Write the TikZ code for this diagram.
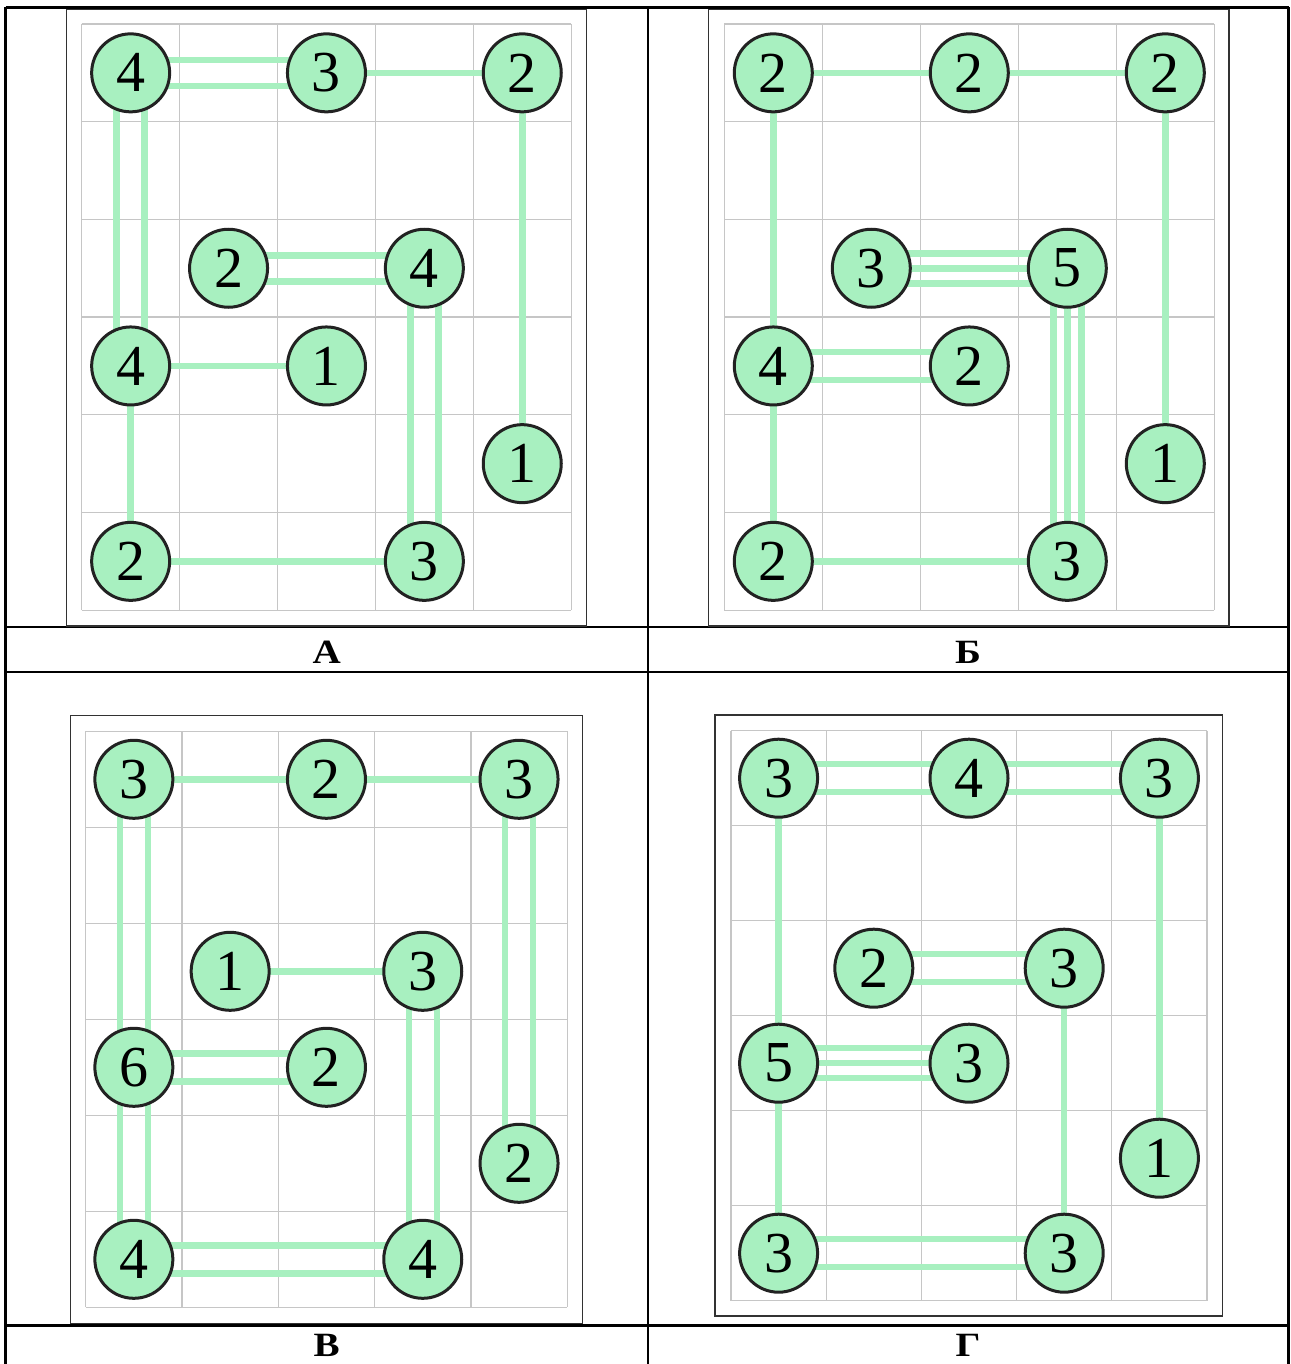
\documentclass[tikz,border=0pt]{standalone}
\usepackage{fontspec}
\setmainfont{Liberation Serif}
\pgfdeclarelayer{back}
\pgfdeclarelayer{bg}
\pgfsetlayers{back,bg,main}
\definecolor{mint}{RGB}{168,240,192}
\definecolor{ring}{RGB}{34,34,34}
\definecolor{gridc}{RGB}{198,198,198}
\definecolor{framec}{RGB}{50,50,50}
\tikzset{
 isle/.style={circle, draw=ring, line width=3pt, fill=mint, minimum size=78pt, inner sep=0pt, font=\fontsize{58}{58}\selectfont},
 bridge/.style={draw=mint, line width=6.5pt},
 gridl/.style={draw=gridc, line width=1.3pt},
 frm/.style={draw=framec, line width=1.2pt},
 tbl/.style={draw=black, line width=2.6pt},
 lbl/.style={font=\fontsize{34}{34}\selectfont\bfseries, anchor=base, xscale=1.15, transform shape}
}
\newcommand\hbr[3]{\foreach \o in {#3}{\draw[bridge] ([yshift=\o pt]#1.center) -- ([yshift=\o pt]#2.center);}}
\newcommand\vbr[3]{\foreach \o in {#3}{\draw[bridge] ([xshift=\o pt]#1.center) -- ([xshift=\o pt]#2.center);}}
\newcommand\gridlines{%
  \foreach \i in {0,...,5} {\draw[gridl] (\i,0) -- (\i,6);}
  \foreach \j in {0,...,6} {\draw[gridl] (0,\j) -- (5,\j);}
}
\begin{document}
\begin{tikzpicture}[x=1pt,y=-1pt]
\useasboundingbox (0,0) rectangle (1290,1364);
\begin{pgfonlayer}{back}
\fill[white] (0,0) rectangle (1290,1364);
\end{pgfonlayer}

% table
\draw[tbl] (5.5,7.5) -- (1288.5,7.5);
\draw[tbl] (5.5,7.5) -- (5.5,1364);
\draw[tbl] (1288.5,7.5) -- (1288.5,1364);
\draw[tbl] (647.8,7.5) -- (647.8,1364);
\draw[tbl] (5.5,627) -- (1288.5,627);
\draw[tbl] (5.5,672) -- (1288.5,672);
\draw[tbl] (5.5,1325.5) -- (1288.5,1325.5);

% frames
\draw[frm] (66.8,9.5) rectangle (586.5,626);
\draw[frm] (708.5,9.5) rectangle (1229,626);
\draw[frm] (70.7,715.3) rectangle (582.3,1323.3);
\draw[frm] (715,715) rectangle (1222.3,1316);

% labels
\node[lbl] (la) at (326.7,663.5) {А};
\node[lbl] (lb) at (968,663.5) {Б};
\node[lbl] (lv) at (326.7,1356) {В};
\node[lbl] (lg) at (968,1356) {Г};

% Panel A
\begin{scope}[shift={(81.7,24)}, x=97.9pt, y=-97.7pt]
\begin{pgfonlayer}{back}\gridlines\end{pgfonlayer}
\node[isle] (a00) at (0.5,0.5) {4};
\node[isle] (a20) at (2.5,0.5) {3};
\node[isle] (a40) at (4.5,0.5) {2};
\node[isle] (a12) at (1.5,2.5) {2};
\node[isle] (a32) at (3.5,2.5) {4};
\node[isle] (a03) at (0.5,3.5) {4};
\node[isle] (a23) at (2.5,3.5) {1};
\node[isle] (a44) at (4.5,4.5) {1};
\node[isle] (a05) at (0.5,5.5) {2};
\node[isle] (a35) at (3.5,5.5) {3};
\begin{pgfonlayer}{bg}
\hbr{a00}{a20}{-13,13}
\hbr{a20}{a40}{0}
\vbr{a00}{a03}{-14,14}
\vbr{a40}{a44}{0}
\hbr{a12}{a32}{-13,13}
\vbr{a32}{a35}{-14,14}
\hbr{a03}{a23}{0}
\vbr{a03}{a05}{0}
\hbr{a05}{a35}{0}
\end{pgfonlayer}
\end{scope}

% Panel B (Б)
\begin{scope}[shift={(724.3,24)}, x=98pt, y=-97.7pt]
\begin{pgfonlayer}{back}\gridlines\end{pgfonlayer}
\node[isle] (b00) at (0.5,0.5) {2};
\node[isle] (b20) at (2.5,0.5) {2};
\node[isle] (b40) at (4.5,0.5) {2};
\node[isle] (b12) at (1.5,2.5) {3};
\node[isle] (b32) at (3.5,2.5) {5};
\node[isle] (b03) at (0.5,3.5) {4};
\node[isle] (b23) at (2.5,3.5) {2};
\node[isle] (b44) at (4.5,4.5) {1};
\node[isle] (b05) at (0.5,5.5) {2};
\node[isle] (b35) at (3.5,5.5) {3};
\begin{pgfonlayer}{bg}
\hbr{b00}{b20}{0}
\hbr{b20}{b40}{0}
\vbr{b00}{b03}{0}
\vbr{b40}{b44}{0}
\hbr{b12}{b32}{-15,0,15}
\vbr{b32}{b35}{-14,0,14}
\hbr{b03}{b23}{-14,14}
\vbr{b03}{b05}{0}
\hbr{b05}{b35}{0}
\end{pgfonlayer}
\end{scope}

% Panel V (В)
\begin{scope}[shift={(85.7,731.3)}, x=96.3pt, y=-96pt]
\begin{pgfonlayer}{back}\gridlines\end{pgfonlayer}
\node[isle] (v00) at (0.5,0.5) {3};
\node[isle] (v20) at (2.5,0.5) {2};
\node[isle] (v40) at (4.5,0.5) {3};
\node[isle] (v12) at (1.5,2.5) {1};
\node[isle] (v32) at (3.5,2.5) {3};
\node[isle] (v03) at (0.5,3.5) {6};
\node[isle] (v23) at (2.5,3.5) {2};
\node[isle] (v44) at (4.5,4.5) {2};
\node[isle] (v05) at (0.5,5.5) {4};
\node[isle] (v35) at (3.5,5.5) {4};
\begin{pgfonlayer}{bg}
\hbr{v00}{v20}{0}
\hbr{v20}{v40}{0}
\vbr{v00}{v03}{-14,14}
\vbr{v40}{v44}{-14,14}
\hbr{v12}{v32}{0}
\vbr{v32}{v35}{-14,14}
\hbr{v03}{v23}{-14,14}
\vbr{v03}{v05}{-14,14}
\hbr{v05}{v35}{-14,14}
\end{pgfonlayer}
\end{scope}

% Panel G (Г)
\begin{scope}[shift={(731,730.7)}, x=95.2pt, y=-95pt]
\begin{pgfonlayer}{back}\gridlines\end{pgfonlayer}
\node[isle] (g00) at (0.5,0.5) {3};
\node[isle] (g20) at (2.5,0.5) {4};
\node[isle] (g40) at (4.5,0.5) {3};
\node[isle] (g12) at (1.5,2.5) {2};
\node[isle] (g32) at (3.5,2.5) {3};
\node[isle] (g03) at (0.5,3.5) {5};
\node[isle] (g23) at (2.5,3.5) {3};
\node[isle] (g44) at (4.5,4.5) {1};
\node[isle] (g05) at (0.5,5.5) {3};
\node[isle] (g35) at (3.5,5.5) {3};
\begin{pgfonlayer}{bg}
\hbr{g00}{g20}{-14,14}
\hbr{g20}{g40}{-14,14}
\vbr{g00}{g03}{0}
\vbr{g40}{g44}{0}
\hbr{g12}{g32}{-14,14}
\vbr{g32}{g35}{0}
\hbr{g03}{g23}{-15,0,15}
\vbr{g03}{g05}{0}
\hbr{g05}{g35}{-14,14}
\end{pgfonlayer}
\end{scope}
\end{tikzpicture}
\end{document}
